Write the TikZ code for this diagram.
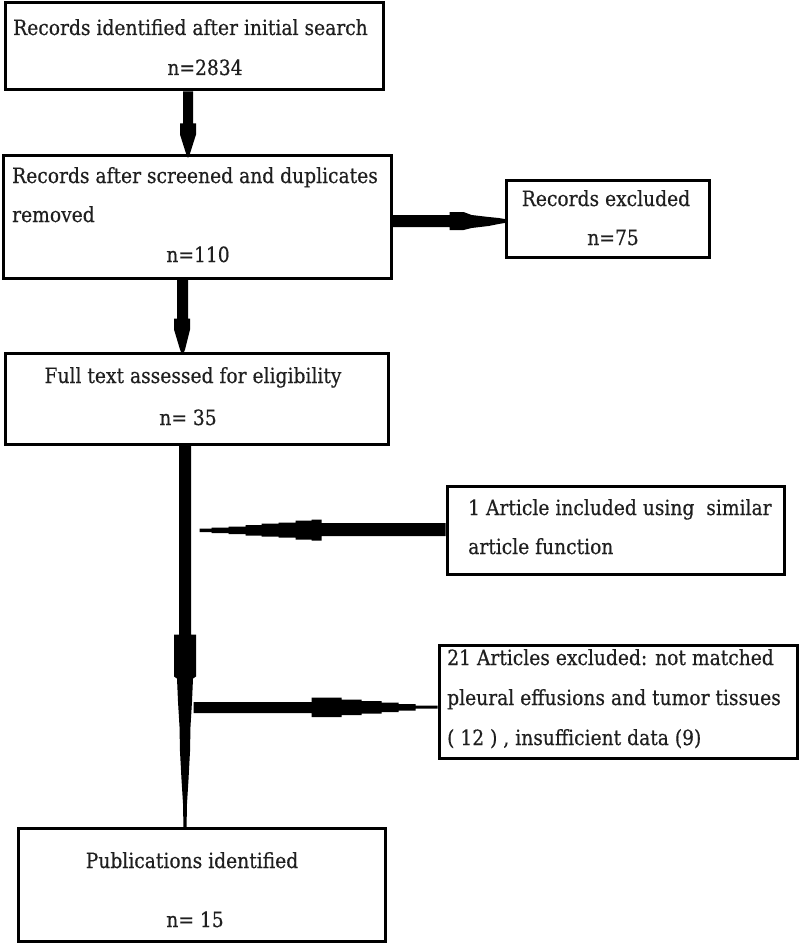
\documentclass[tikz,border=0pt]{standalone}
\usepackage{fontspec}
\setmainfont{DejaVu Serif}[FakeStretch=0.89,FakeBold=0.4]
\begin{document}
\begin{tikzpicture}[x=1pt,y=-1pt,
  box/.style={draw=black,line width=3pt,inner sep=0pt,rectangle},
  txt/.style={inner sep=0pt,font=\fontsize{21}{25}\selectfont,text=black!88},
  conn/.style={fill=black}]
\useasboundingbox[fill=white] (0,0) rectangle (800,944);
% boxes
\node[box,minimum width=378pt,minimum height=87pt]  (b1) at (194,46.5) {};
\node[box,minimum width=388pt,minimum height=122pt] (b2) at (197,217) {};
\node[box,minimum width=203pt,minimum height=76pt]  (b3) at (607.5,219) {};
\node[box,minimum width=383pt,minimum height=91pt]  (b4) at (196.5,398.5) {};
\node[box,minimum width=337pt,minimum height=88pt]  (b5) at (615.5,530.5) {};
\node[box,minimum width=358pt,minimum height=113pt] (b6) at (618,701.5) {};
\node[box,minimum width=367pt,minimum height=113pt] (b7) at (201.5,884.5) {};
% texts
\node[txt,anchor=base west] (t1a) at (13,35) {Records identified after initial search};
\node[txt,anchor=base] (t1b) at (205,75) {n=2834};
\node[txt,anchor=base west] (t2a) at (12,183) {Records after screened and duplicates};
\node[txt,anchor=base west] (t2b) at (12,222) {removed};
\node[txt,anchor=base] (t2c) at (198,262) {n=110};
\node[txt,anchor=base] (t3a) at (606,206) {Records excluded};
\node[txt,anchor=base] (t3b) at (613,245) {n=75};
\node[txt,anchor=base] (t4a) at (193,383) {Full text assessed for eligibility};
\node[txt,anchor=base] (t4b) at (188,425) {n= 35};
\node[txt,anchor=base west] (t5a) at (468,515) {1 Article included using\ \ similar};
\node[txt,anchor=base west] (t5b) at (468,554) {article function};
\node[txt,anchor=base west] (t6a) at (447,665) {21 Articles excluded: not matched};
\node[txt,anchor=base west] (t6b) at (447,705) {pleural effusions and tumor tissues};
\node[txt,anchor=base west] (t6c) at (447,745) {( 12 ) , insufficient data (9)};
\node[txt,anchor=base] (t7a) at (192,868) {Publications identified};
\node[txt,anchor=base] (t7b) at (195,927) {n= 15};
% connectors
\begin{scope}[shift={(b1.south)}]
\fill[conn] (-11,0) -- (-1,0) -- (-1,32) -- (2,32) -- (2,43) -- (-4,62) -- (-5.5,66)
  -- (-6.5,66) -- (-8,62) -- (-14,43) -- (-14,32) -- (-11,32) -- cycle;
\end{scope}
\begin{scope}[shift={(b2.south)}]
\fill[conn] (-20,0) -- (-9,0) -- (-9,39) -- (-7,39) -- (-7,50) -- (-12,70) -- (-14,75)
  -- (-15,75) -- (-17,70) -- (-23,50) -- (-23,39) -- (-20,39) -- cycle;
\end{scope}
\begin{scope}[shift={(b2.east)}]
\fill[conn] (0,-2) -- (57,-2) -- (57,-5) -- (71,-5) -- (79,-2) -- (96,0) -- (106,1) -- (115,2.5)
  -- (115,5.5) -- (106,7) -- (96,9) -- (79,11) -- (71,13) -- (57,13) -- (57,10) -- (0,10) -- cycle;
\end{scope}
\begin{scope}[shift={(b4.south)}]
\fill[conn] (-5.5,0) -- (-5.5,189) -- (-0.5,189) -- (-0.5,231) -- (-3.5,233) -- (-4.5,256)
  -- (-6,281) -- (-6.5,306) -- (-8,334) -- (-9.5,358) -- (-10,384) -- (-13,384) -- (-13.5,358)
  -- (-15,334) -- (-16.5,306) -- (-17,281) -- (-18.5,256) -- (-19.5,233) -- (-22.5,231)
  -- (-22.5,189) -- (-17.5,189) -- (-17.5,0) -- cycle;
\end{scope}
\begin{scope}[shift={(b5.west)}]
\fill[conn] (0,-7.5) -- (-124,-7.5) -- (-124,-11) -- (-134,-11) -- (-134,-10) -- (-150,-10)
  -- (-150,-8) -- (-167,-8) -- (-167,-7) -- (-184,-7) -- (-184,-5.5) -- (-200,-5.5)
  -- (-200,-4) -- (-217,-4) -- (-217,-3) -- (-234,-3) -- (-234,-2) -- (-246,-2)
  -- (-246,1.5) -- (-234,1.5) -- (-234,2.5) -- (-217,2.5) -- (-217,3.5) -- (-200,3.5)
  -- (-200,5) -- (-184,5) -- (-184,6) -- (-167,6) -- (-167,7) -- (-150,7) -- (-150,9)
  -- (-134,9) -- (-134,10) -- (-124,10) -- (-124,5.5) -- (0,5.5) -- cycle;
\end{scope}
\begin{scope}[shift={(b6.west)}]
\fill[conn] (-244,0.5) -- (-126,0.5) -- (-126,-4) -- (-96,-4) -- (-96,-2) -- (-76,-2)
  -- (-76,-0.5) -- (-56,-0.5) -- (-56,1) -- (-39,1) -- (-39,2.5) -- (-22,2.5) -- (-22,4) -- (0,4)
  -- (0,7) -- (-22,7) -- (-22,9) -- (-39,9) -- (-39,10.5) -- (-56,10.5) -- (-56,12)
  -- (-76,12) -- (-76,13.5) -- (-96,13.5) -- (-96,15.5) -- (-126,15.5) -- (-126,11.5) -- (-244,11.5) -- cycle;
\end{scope}
\end{tikzpicture}
\end{document}
